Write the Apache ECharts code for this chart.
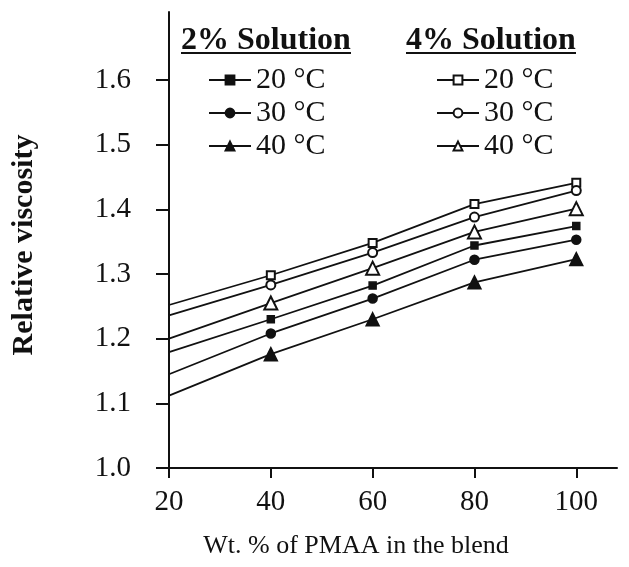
<!DOCTYPE html>
<html>
<head>
<meta charset="utf-8">
<script src="https://cdn.jsdelivr.net/npm/echarts@6/dist/echarts.min.js"></script>
<style>
  html, body { margin: 0; padding: 0; background: #fff; }
  #chart { width: 629px; height: 567px; }
</style>
</head>
<body>
<div id="chart"></div>
<script>
// wt. % of PMAA in the blend
var blendPct = [20, 40, 60, 80, 100];
var xTicks = [20, 40, 60, 80, 100];
var yTicks = [1.0, 1.1, 1.2, 1.3, 1.4, 1.5, 1.6];

// relative viscosity, 2% solution
var sol2_20 = [1.179, 1.230, 1.282, 1.344, 1.374];
var sol2_30 = [1.145, 1.208, 1.262, 1.322, 1.353];
var sol2_40 = [1.112, 1.176, 1.230, 1.287, 1.323];
// relative viscosity, 4% solution
var sol4_20 = [1.252, 1.298, 1.348, 1.408, 1.441];
var sol4_30 = [1.236, 1.283, 1.333, 1.388, 1.429];
var sol4_40 = [1.200, 1.255, 1.309, 1.365, 1.401];

var FONT = "'Liberation Serif', 'DejaVu Serif', serif";

function pts(vals) {
    // first point sits on the axis, drawn without a marker
    return vals.map(function (v, i) {
        var item = { value: [blendPct[i], v] };
        if (i === 0) item.symbol = 'none';
        return item;
    });
}

function line(name, vals, symbol, size) {
    return {
        name: name,
        type: 'line',
        data: pts(vals),
        symbol: symbol,
        symbolSize: size,
        showAllSymbol: true,
        lineStyle: { color: '#111', width: 1.8 },
        itemStyle: { color: '#111', borderColor: '#111', borderWidth: 1.5 },
        animation: false
    };
}

var chart = echarts.init(document.getElementById('chart'));
var legendText = { fontFamily: FONT, fontSize: 30, color: '#111' };

chart.setOption({
    backgroundColor: '#fff',
    animation: false,
    grid: { left: 169, right: 12, top: 12, bottom: 99 },
    legend: [
        {
            data: ['2% 20', '2% 30', '2% 40'],
            orient: 'vertical', left: 203, top: 60,
            itemWidth: 42, itemHeight: 11, itemGap: 3,
            textStyle: legendText,
            formatter: function (n) { return n.split(' ')[1] + ' °C'; }
        },
        {
            data: ['4% 20', '4% 30', '4% 40'],
            orient: 'vertical', left: 431, top: 60,
            itemWidth: 42, itemHeight: 11, itemGap: 3,
            textStyle: legendText,
            formatter: function (n) { return n.split(' ')[1] + ' °C'; }
        }
    ],
    graphic: [
        { type: 'text', left: 181, top: 25, style: { text: '2% Solution', font: 'bold 32px ' + FONT, fill: '#111' } },
        { type: 'line', shape: { x1: 181, y1: 53, x2: 351, y2: 53 }, style: { stroke: '#111', lineWidth: 2 } },
        { type: 'text', left: 406, top: 25, style: { text: '4% Solution', font: 'bold 32px ' + FONT, fill: '#111' } },
        { type: 'line', shape: { x1: 406, y1: 53, x2: 576, y2: 53 }, style: { stroke: '#111', lineWidth: 2 } }
    ],
    xAxis: {
        type: 'value', min: 20, max: 108,
        name: 'Wt. % of PMAA in the blend',
        nameLocation: 'middle', nameGap: 65,
        nameTextStyle: { fontFamily: FONT, fontSize: 26, color: '#111', padding: [0, 74, 0, 0] },
        axisLine: { lineStyle: { color: '#111', width: 2 } },
        axisTick: { customValues: xTicks, length: 10, lineStyle: { color: '#111', width: 2 } },
        axisLabel: { customValues: xTicks, margin: 20, fontFamily: FONT, fontSize: 29, color: '#111' },
        splitLine: { show: false }
    },
    yAxis: {
        type: 'value', min: 1.0, max: 1.705,
        name: 'Relative viscosity',
        nameLocation: 'middle', nameGap: 130,
        nameTextStyle: { fontFamily: FONT, fontSize: 30, fontWeight: 'bold', color: '#111', padding: [0, 10, 0, 0] },
        axisLine: { show: true, lineStyle: { color: '#111', width: 2 } },
        axisTick: { show: true, customValues: yTicks, length: 13, lineStyle: { color: '#111', width: 2 } },
        axisLabel: {
            customValues: yTicks, margin: 38, fontFamily: FONT, fontSize: 29, color: '#111',
            formatter: function (v) { return v.toFixed(1); }
        },
        splitLine: { show: false }
    },
    series: [
        line('2% 20', sol2_20, 'rect', 7),
        line('2% 30', sol2_30, 'circle', 9),
        line('2% 40', sol2_40, 'triangle', 13),
        line('4% 20', sol4_20, 'emptyRect', 8),
        line('4% 30', sol4_30, 'emptyCircle', 9),
        line('4% 40', sol4_40, 'emptyTriangle', 13)
    ]
});
</script>
</body>
</html>
